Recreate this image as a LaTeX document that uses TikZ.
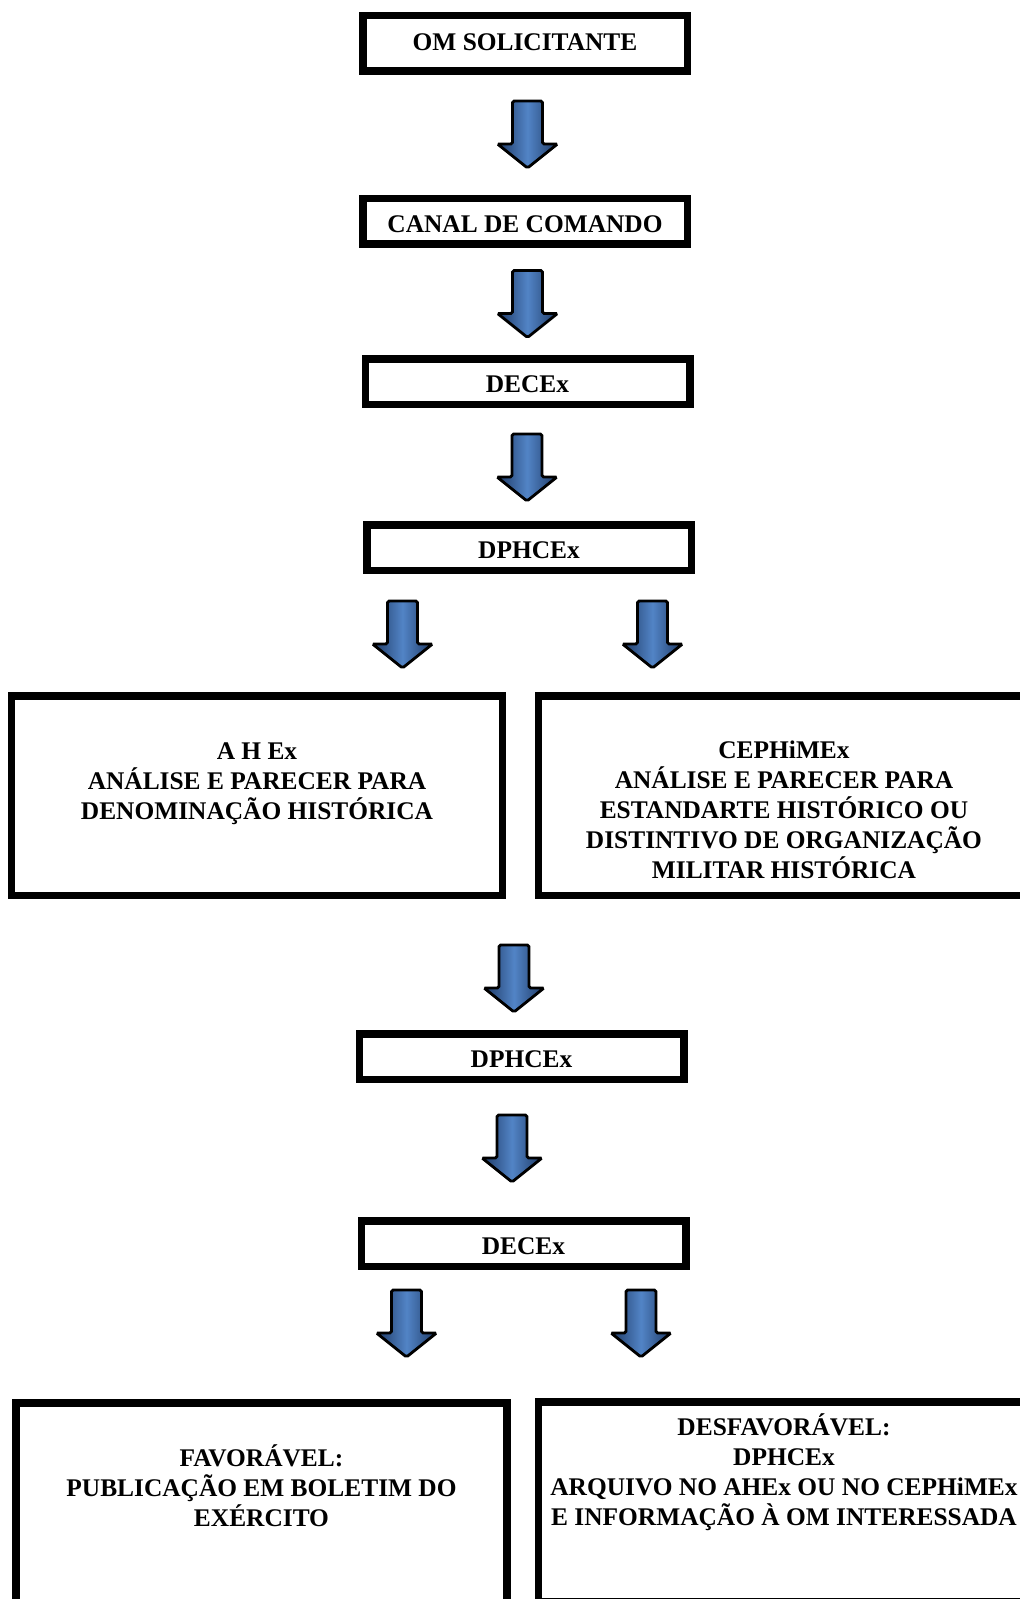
\documentclass[tikz,border=0pt]{standalone}
\usepackage{fontspec}
\setmainfont{Liberation Serif}
\usetikzlibrary{positioning}
\definecolor{arrowdark}{RGB}{30,58,102}
\definecolor{arrowlight}{RGB}{82,132,198}

\begin{document}
\begin{tikzpicture}[x=0.5pt,y=-0.5pt,on grid,
    box/.style={draw,line width=3.75pt,fill=white,minimum width=162.25pt,minimum height=22.75pt,
      inner sep=0pt,text height=11.2pt,text depth=0pt,font=\bfseries\fontsize{12.7}{15}\selectfont},
    bigbox/.style={draw,line width=3.75pt,minimum width=245.5pt,minimum height=99.75pt},
    boxtext/.style={anchor=base,inner sep=0pt,font=\bfseries\fontsize{12.7}{15}\selectfont},
    downarrow/.pic={\draw[line width=1.4pt,rounded corners=0.8pt,left color=arrowdark,
      right color=arrowdark,middle color=arrowlight]
      (-15,-33) -- (15,-33) -- (15,10) -- (30,10) -- (0,34) -- (-30,10) -- (-15,10) -- cycle;}]
\useasboundingbox (0,0) rectangle (1020,1599);
\clip (0,0) rectangle (1020,1599);

% main column
\node[box,minimum height=27.75pt,text height=6.6pt] (om) at (525,43.5) {OM SOLICITANTE};
\node[box] (canal) [below=89pt of om] {CANAL DE COMANDO};
\node[box] (decex_1) [below=80pt of canal,xshift=1.25pt] {DECEx};
\node[box] (dphcex_1) [below=83pt of decex_1,xshift=0.75pt] {DPHCEx};

% analysis
\node[bigbox] (ahex) [below left=124pt and 136pt of dphcex_1] {};
\node[bigbox] (cephimex) [right=263.5pt of ahex] {};
\node[boxtext] (ahex_txt) at ([yshift=-33.6pt]ahex.north)
  {\parbox[t]{250pt}{\centering A H Ex\\ANÁLISE E PARECER PARA\\DENOMINAÇÃO HISTÓRICA}};
\node[boxtext] (cephimex_txt) at ([yshift=-33.4pt]cephimex.north)
  {\parbox[t]{250pt}{\centering CEPHiMEx\\ANÁLISE E PARECER PARA\\ESTANDARTE HISTÓRICO OU\\DISTINTIVO DE ORGANIZAÇÃO\\MILITAR HISTÓRICA}};

\node[box] (dphcex_2) [below=254.5pt of dphcex_1,xshift=-3.75pt] {DPHCEx};
\node[box] (decex_2) [below=93.5pt of dphcex_2,xshift=1pt] {DECEx};

% decision
\node[bigbox] (fav) [below left=129.5pt and 131pt of decex_2] {};
\node[bigbox] (desfav) [right=261.25pt of fav,yshift=0.5pt] {};
\node[boxtext] (fav_txt) at ([yshift=-33.9pt]fav.north)
  {\parbox[t]{250pt}{\centering FAVORÁVEL:\\PUBLICAÇÃO EM BOLETIM DO\\EXÉRCITO}};
\node[boxtext] (desfav_txt) at ([yshift=-18.7pt]desfav.north)
  {\parbox[t]{250pt}{\centering DESFAVORÁVEL:\\DPHCEx\\ARQUIVO NO AHEx OU NO CEPHiMEx\\E INFORMAÇÃO À OM INTERESSADA}};

% arrows
\pic at (527.5,134) {downarrow};
\pic at (527.5,303.5) {downarrow};
\pic at (527,467) {downarrow};
\pic at (402.5,634) {downarrow};
\pic at (652.5,634) {downarrow};
\pic at (514,978) {downarrow};
\pic at (512,1148) {downarrow};
\pic at (406.5,1323) {downarrow};
\pic at (641,1323) {downarrow};
\end{tikzpicture}
\end{document}
